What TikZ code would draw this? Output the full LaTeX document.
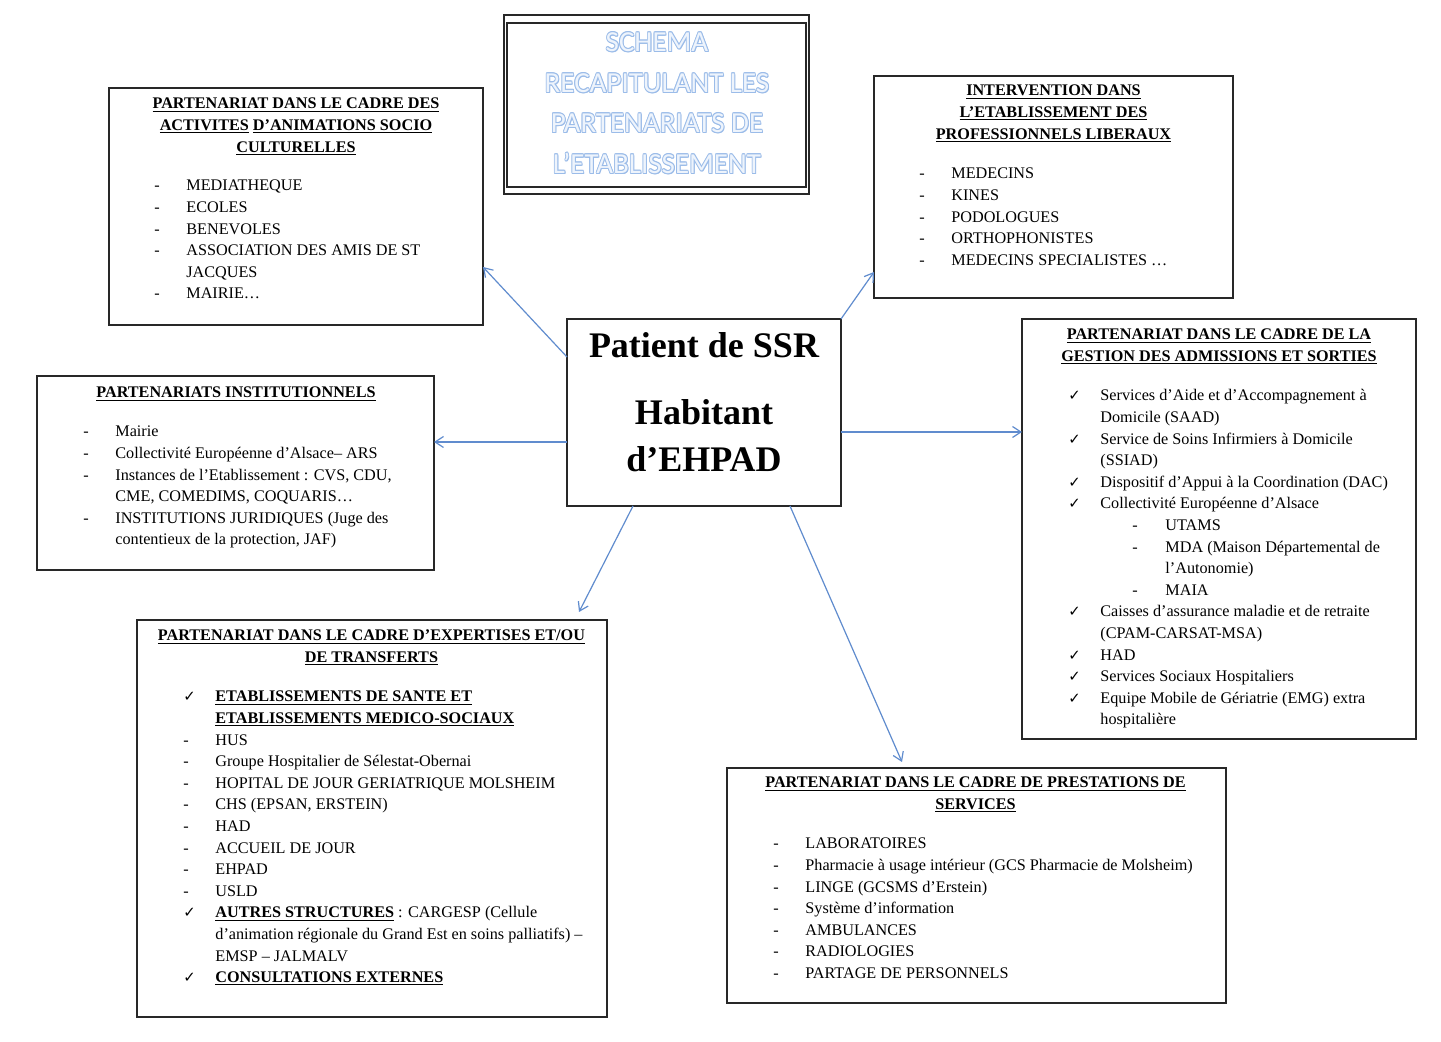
\documentclass[tikz,border=0pt]{standalone}
\usepackage{fontspec}
\setmainfont{Liberation Serif}
\newfontfamily\chkfont{DejaVu Sans}
\newfontfamily\capfont{Carlito}
\usetikzlibrary{arrows.meta,calc}
\definecolor{arrowblue}{RGB}{96,140,206}
\definecolor{boxgray}{RGB}{40,40,40}
\definecolor{titlefill}{RGB}{238,244,252}
\definecolor{titleedge}{RGB}{155,188,233}
\newcommand\bodyfont{\fontsize{8.1}{10.8}\selectfont}
\newcommand\ckm{{\chkfont\fontsize{7.4}{10.8}\selectfont ✓}}
\newcommand\subd[1]{\hspace{16pt}\makebox[16.5pt][l]{-}#1}
\newsavebox\ulbox
\newcommand\uln[1]{\sbox\ulbox{#1}\rlap{\rule[-1.3pt]{\wd\ulbox}{0.45pt}}\usebox\ulbox}
\newcommand\oc[3]{\rlap{\hspace{#1}\raisebox{#2}{\textcolor{titleedge}{#3}}}}
\newcommand\outl[1]{\leavevmode\oc{-0.4pt}{0pt}{#1}\oc{0.4pt}{0pt}{#1}\oc{0pt}{0.4pt}{#1}\oc{0pt}{-0.4pt}{#1}%
\oc{-0.3pt}{-0.3pt}{#1}\oc{0.3pt}{0.3pt}{#1}\oc{-0.3pt}{0.3pt}{#1}\oc{0.3pt}{-0.3pt}{#1}\oc{0.5pt}{-0.6pt}{#1}%
\textcolor{titlefill}{#1}}
\begin{document}
\begin{tikzpicture}[x=0.5pt,y=-0.5pt,
  box/.style={draw=boxgray, line width=0.7pt, anchor=north west, inner sep=0pt, outer sep=0pt},
  ttlhead/.style={anchor=north, inner sep=0pt, font=\bodyfont\bfseries},
  lst/.style={anchor=north west, inner sep=0pt, font=\bodyfont},
  captxt/.style={anchor=base, inner sep=0pt, font=\capfont\fontsize{14.5}{20}\selectfont},
  ctr/.style={anchor=base, inner sep=0pt, font=\bfseries\fontsize{18}{20}\selectfont},
  arr/.style={draw=arrowblue, line width=0.6pt, -{Straight Barb[length=4.2pt,width=5.5pt]}}]
\fill[white] (0,0) rectangle (1441,1042);
\useasboundingbox (0,0) rectangle (1441,1042);

% ---------- title box ----------
\node[box, minimum width=152.5pt, minimum height=89.5pt] (tout) at (504,15) {};
\node[box, minimum width=149.5pt, minimum height=82pt] (tin) at (507,23) {};
\node[captxt] (t1) at (657,51.5) {\outl{SCHEMA}};
\node[captxt] (t2) at (657,92.5) {\outl{RECAPITULANT LES}};
\node[captxt] (t3) at (657,132.5) {\outl{PARTENARIATS DE}};
\node[captxt] (t4) at (657,173.5) {\outl{L’ETABLISSEMENT}};

% ---------- top-left box ----------
\node[box, minimum width=187pt, minimum height=118.5pt] (tl) at (109,88) {};
\node[ttlhead] (tlh) at (296,93.4) {\begin{tabular}{@{}c@{}}
\uln{PARTENARIAT DANS LE CADRE DES}\\
\uln{ACTIVITES} \uln{D'ANIMATIONS SOCIO}\\
\uln{CULTURELLES}\end{tabular}};
\node[lst] (tll) at (154,175.4) {\begin{tabular}{@{}p{16pt}@{}l@{}}
- & MEDIATHEQUE\\
- & ECOLES\\
- & BENEVOLES\\
- & ASSOCIATION DES AMIS DE ST\\
 & JACQUES\\
- & MAIRIE…\end{tabular}};

% ---------- top-right box ----------
\node[box, minimum width=179.5pt, minimum height=111pt] (tr) at (874,76) {};
\node[ttlhead] (trh) at (1053.5,80.4) {\begin{tabular}{@{}c@{}}
\uln{INTERVENTION DANS}\\
\uln{L'ETABLISSEMENT DES}\\
\uln{PROFESSIONNELS LIBERAUX}\end{tabular}};
\node[lst] (trl) at (919,163.4) {\begin{tabular}{@{}p{16pt}@{}l@{}}
- & MEDECINS\\
- & KINES\\
- & PODOLOGUES\\
- & ORTHOPHONISTES\\
- & MEDECINS SPECIALISTES …\end{tabular}};

% ---------- centre box ----------
\node[box, minimum width=137pt, minimum height=93.5pt] (c) at (567,319) {};
\node[ctr] (c1) at (704,358) {Patient de SSR};
\node[ctr] (c2) at (704,425) {Habitant};
\node[ctr] (c3) at (704,472) {d'EHPAD};

% ---------- left box ----------
\node[box, minimum width=198.5pt, minimum height=97pt] (l) at (37,376) {};
\node[ttlhead] (lh) at (236,382.4) {\begin{tabular}{@{}c@{}}\uln{PARTENARIATS INSTITUTIONNELS}\end{tabular}};
\node[lst] (ll) at (83,421.4) {\begin{tabular}{@{}p{16pt}@{}l@{}}
- & Mairie\\
- & Collectivité Européenne d'Alsace– ARS\\
- & Instances de l'Etablissement : CVS, CDU,\\
 & CME, COMEDIMS, COQUARIS…\\
- & INSTITUTIONS JURIDIQUES (Juge des\\
 & contentieux de la protection, JAF)\end{tabular}};

% ---------- right box ----------
\node[box, minimum width=197pt, minimum height=210pt] (r) at (1022,319) {};
\node[ttlhead] (rh) at (1219,324.4) {\begin{tabular}{@{}c@{}}
\uln{PARTENARIAT DANS LE CADRE DE LA}\\
\uln{GESTION DES ADMISSIONS ET SORTIES}\end{tabular}};
\node[lst] (rl) at (1068,385.4) {\begin{tabular}{@{}p{16pt}@{}l@{}}
\ckm & Services d'Aide et d'Accompagnement à\\
 & Domicile (SAAD)\\
\ckm & Service de Soins Infirmiers à Domicile\\
 & (SSIAD)\\
\ckm & Dispositif d'Appui à la Coordination (DAC)\\
\ckm & Collectivité Européenne d'Alsace\\
 & \subd{UTAMS}\\
 & \subd{MDA (Maison Départemental de}\\
 & \hspace{32.5pt}l'Autonomie)\\
 & \subd{MAIA}\\
\ckm & Caisses d'assurance maladie et de retraite\\
 & (CPAM-CARSAT-MSA)\\
\ckm & HAD\\
\ckm & Services Sociaux Hospitaliers\\
\ckm & Equipe Mobile de Gériatrie (EMG) extra\\
 & hospitalière\end{tabular}};

% ---------- bottom-left box ----------
\node[box, minimum width=235pt, minimum height=198.5pt] (bl) at (137,620) {};
\node[ttlhead] (blh) at (371.5,625.4) {\begin{tabular}{@{}c@{}}
\uln{PARTENARIAT DANS LE CADRE D'EXPERTISES ET/OU}\\
\uln{DE TRANSFERTS}\end{tabular}};
\node[lst] (bll) at (183,686.4) {\begin{tabular}{@{}p{16pt}@{}l@{}}
\ckm & \textbf{\uln{ETABLISSEMENTS DE SANTE ET}}\\
 & \textbf{\uln{ETABLISSEMENTS MEDICO-SOCIAUX}}\\
- & HUS\\
- & Groupe Hospitalier de Sélestat-Obernai\\
- & HOPITAL DE JOUR GERIATRIQUE MOLSHEIM\\
- & CHS (EPSAN, ERSTEIN)\\
- & HAD\\
- & ACCUEIL DE JOUR\\
- & EHPAD\\
- & USLD\\
\ckm & \textbf{\uln{AUTRES STRUCTURES}} : CARGESP (Cellule\\
 & d'animation régionale du Grand Est en soins palliatifs) –\\
 & EMSP – JALMALV\\
\ckm & \textbf{\uln{CONSULTATIONS EXTERNES}}\end{tabular}};

% ---------- bottom-right box ----------
\node[box, minimum width=249.5pt, minimum height=117.5pt] (br) at (727,768) {};
\node[ttlhead] (brh) at (975.5,772.4) {\begin{tabular}{@{}c@{}}
\uln{PARTENARIAT DANS LE CADRE DE PRESTATIONS DE}\\
\uln{SERVICES}\end{tabular}};
\node[lst] (brl) at (773,833.4) {\begin{tabular}{@{}p{16pt}@{}l@{}}
- & LABORATOIRES\\
- & Pharmacie à usage intérieur (GCS Pharmacie de Molsheim)\\
- & LINGE (GCSMS d'Erstein)\\
- & Système d'information\\
- & AMBULANCES\\
- & RADIOLOGIES\\
- & PARTAGE DE PERSONNELS\end{tabular}};

% ---------- connectors ----------
\draw[arr] ($(c.north west)+(0,38)$) -- ($(tl.south east)+(0,-58)$);
\draw[arr] (c.north east) -- ($(tr.south west)+(0,-26)$);
\draw[arr] ($(c.north west)+(0,123)$) -- ($(l.north east)+(0,66)$);
\draw[arr] ($(c.north east)+(0,113)$) -- ($(r.north west)+(0,113)$);
\draw[arr] ($(c.south west)+(66,0)$) -- ($(bl.north west)+(442,-8)$);
\draw[arr] ($(c.south west)+(223,0)$) -- ($(br.north west)+(175,-6)$);
\end{tikzpicture}
\end{document}
